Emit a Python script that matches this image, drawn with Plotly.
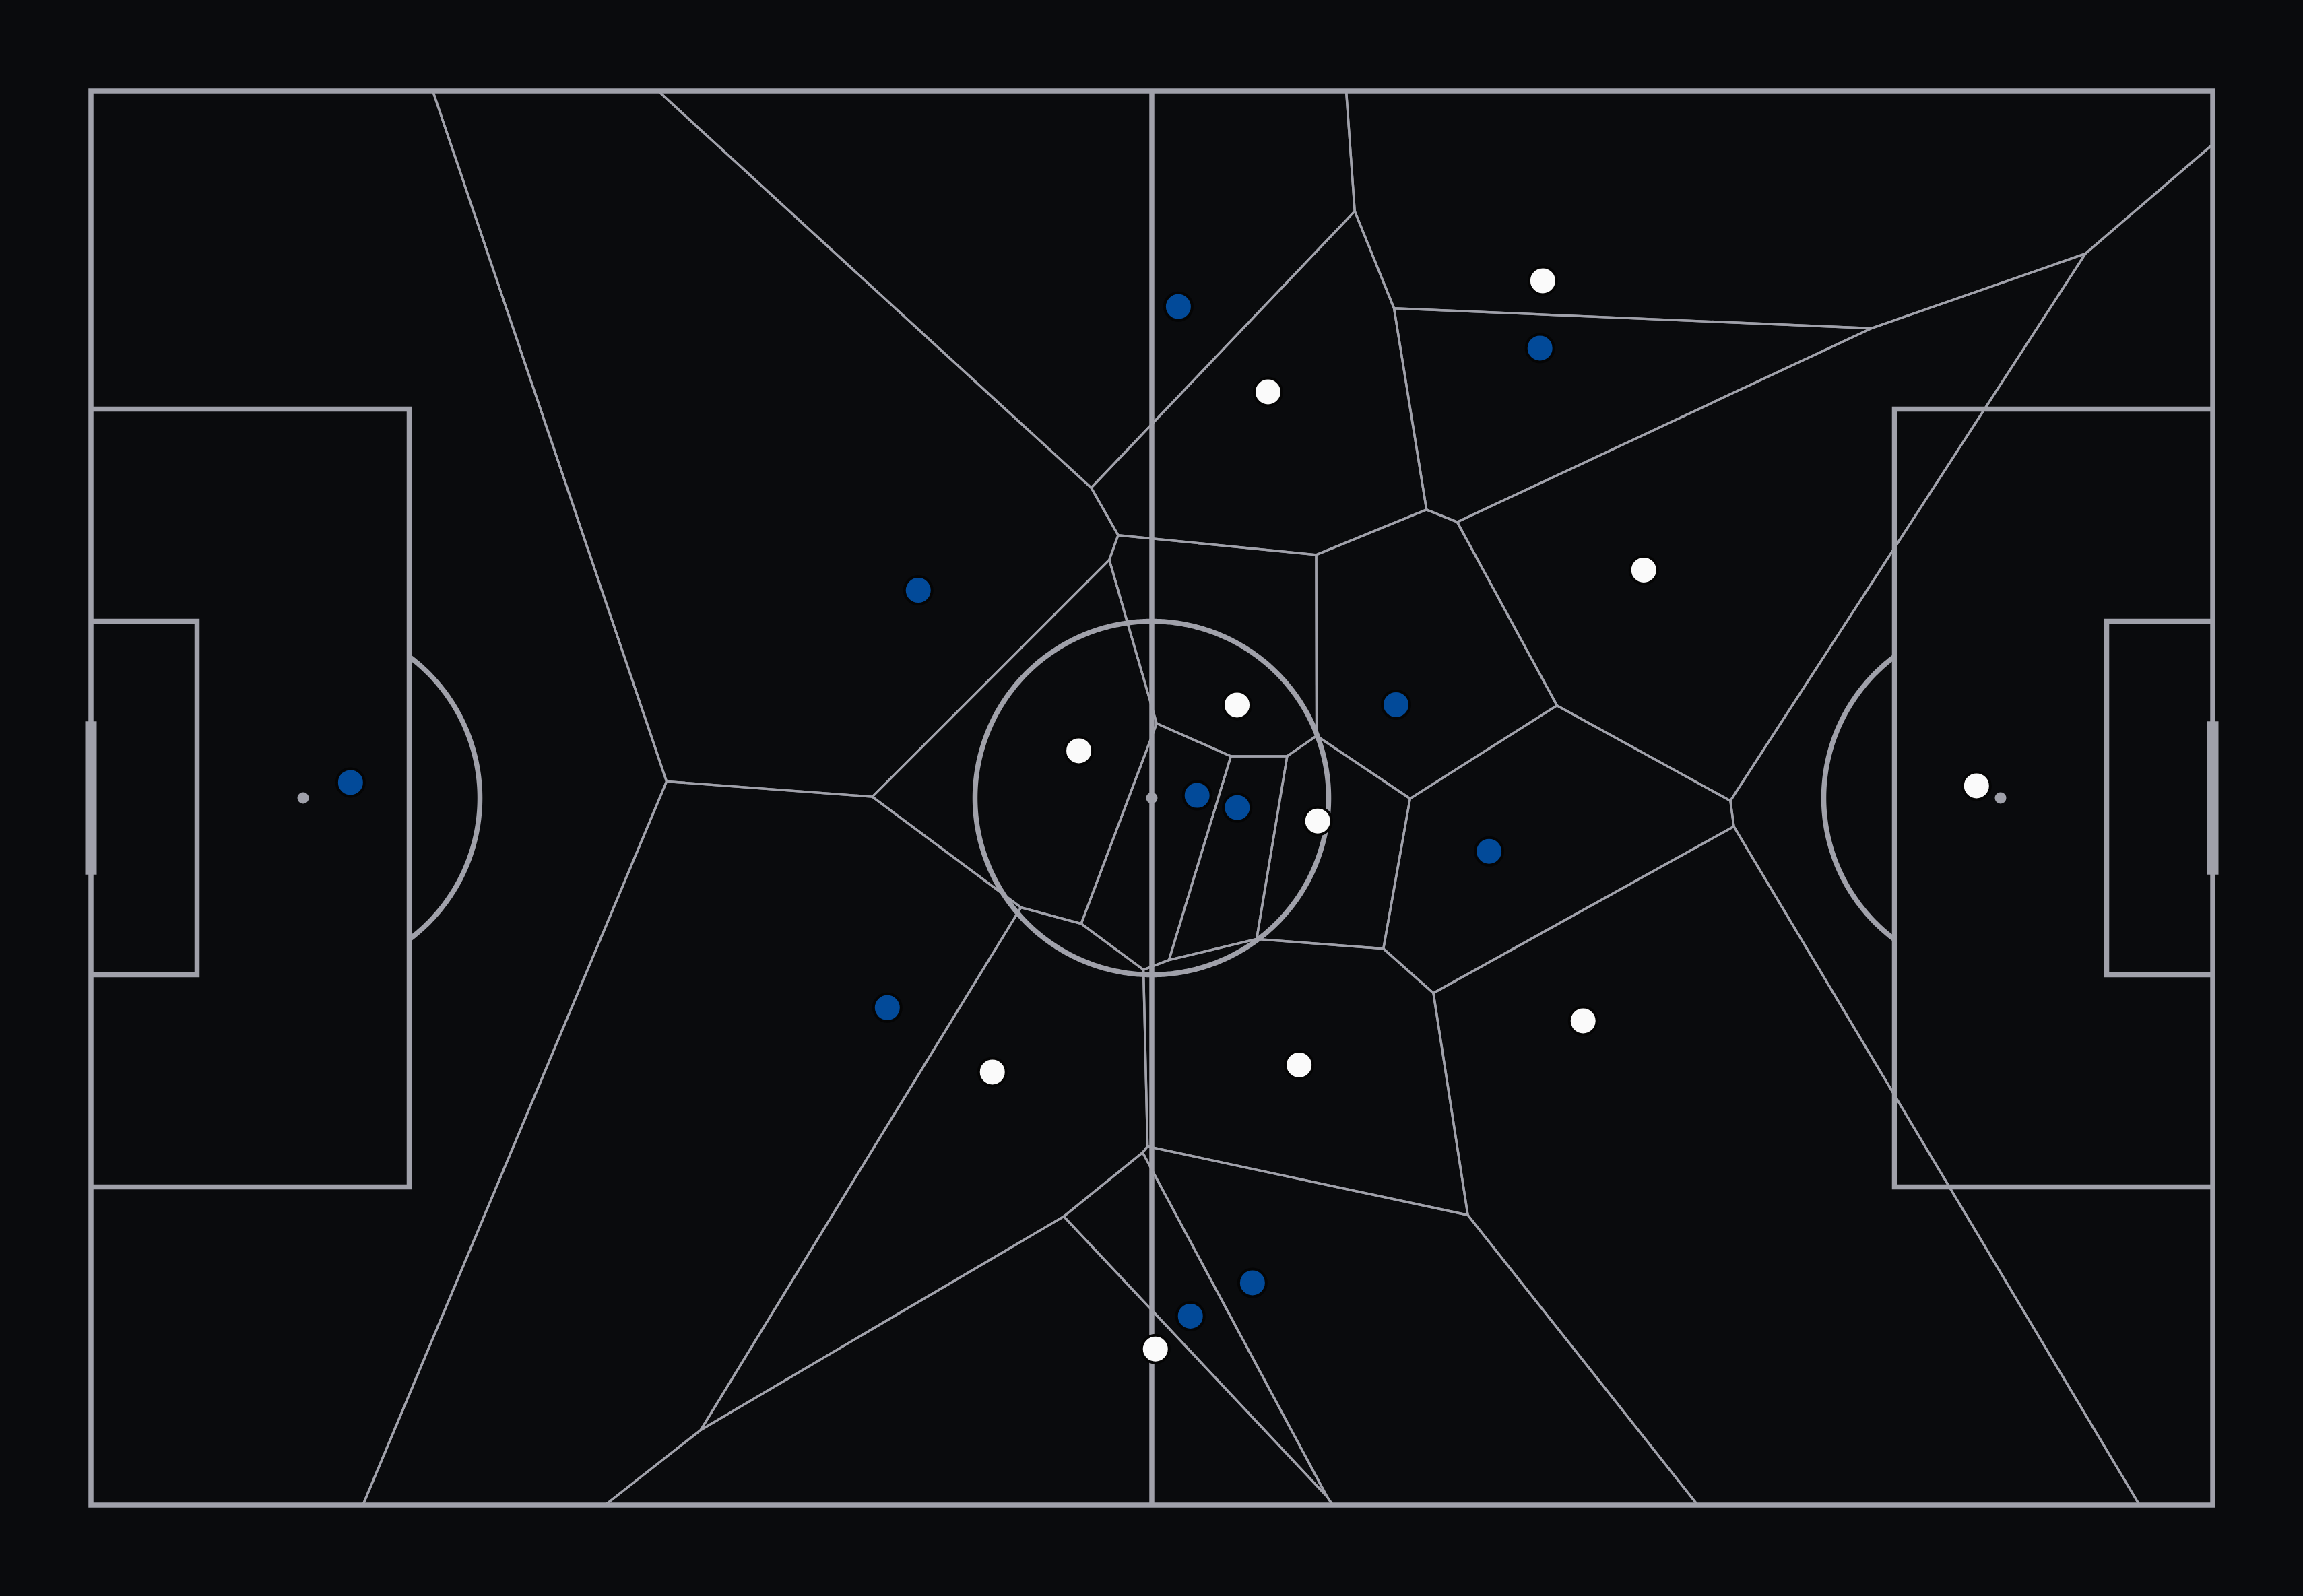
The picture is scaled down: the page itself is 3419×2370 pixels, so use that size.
import numpy as np
import plotly.graph_objects as go

# ---------------- data (StatsBomb pitch coordinates, 120 x 80, y downwards) -------------
white_x = [82.11, 66.57, 87.82, 64.82, 55.87, 69.38, 106.64, 84.39, 68.33, 50.98, 60.20]
white_y = [10.74, 17.03, 27.10, 34.74, 37.33, 41.30, 39.31, 52.61, 55.10, 55.50, 71.17]
blue_x = [61.50, 81.95, 46.79, 73.81, 62.56, 64.83, 79.07, 14.68, 45.04, 65.69, 62.18]
blue_y = [12.20, 14.55, 28.25, 34.72, 39.85, 40.54, 43.02, 39.12, 51.86, 67.43, 69.31]

# ---------------- pitch dimensions (StatsBomb) -----------------------------------------
PITCH_L, PITCH_W = 120.0, 80.0
BOX_L, BOX_TOP, BOX_BOT = 18.0, 18.0, 62.0
SIX_L, SIX_TOP, SIX_BOT = 6.0, 30.0, 50.0
PEN_SPOT = 12.0
CIRCLE_R = 10.0
GOAL_TOP, GOAL_BOT = 36.0, 44.0

BG = "#0a0b0d"
LINE = "#a0a1aa"
WHITE = "#fafafa"
BLUE = "#024a99"

W, H = 3419, 2370
PX_PER_UNIT = 26.25
PAD_PX = 135


def clip_halfplane(poly, a, b, c):
    """Keep the part of polygon with a*x + b*y <= c."""
    out = []
    n = len(poly)
    for i in range(n):
        p, q = poly[i], poly[(i + 1) % n]
        fp = a * p[0] + b * p[1] - c
        fq = a * q[0] + b * q[1] - c
        if fp <= 0:
            out.append(p)
        if (fp < 0 < fq) or (fq < 0 < fp):
            t = fp / (fp - fq)
            out.append((p[0] + t * (q[0] - p[0]), p[1] + t * (q[1] - p[1])))
    return out


pts = list(zip(white_x + blue_x, white_y + blue_y))
vor_x, vor_y = [], []
for i, (xi, yi) in enumerate(pts):
    cell = [(0.0, 0.0), (PITCH_L, 0.0), (PITCH_L, PITCH_W), (0.0, PITCH_W)]
    for j, (xj, yj) in enumerate(pts):
        if i == j:
            continue
        a, b = 2 * (xj - xi), 2 * (yj - yi)
        c = (xj ** 2 + yj ** 2) - (xi ** 2 + yi ** 2)
        cell = clip_halfplane(cell, a, b, c)
        if not cell:
            break
    if cell:
        vor_x += [p[0] for p in cell] + [cell[0][0], None]
        vor_y += [p[1] for p in cell] + [cell[0][1], None]

fig = go.Figure()


def add_line(xs, ys, width=7.5):
    fig.add_trace(go.Scatter(x=xs, y=ys, mode="lines", hoverinfo="skip",
                             line=dict(color=LINE, width=width, simplify=False),
                             showlegend=False))


# pitch outline (closed with an extra segment so the corner joins) & halfway
add_line([0, PITCH_L, PITCH_L, 0, 0, PITCH_L], [0, 0, PITCH_W, PITCH_W, 0, 0])
add_line([PITCH_L / 2, PITCH_L / 2], [0, PITCH_W])
# boxes
for side in (0, 1):
    def fx(v):
        return v if side == 0 else PITCH_L - v
    add_line([fx(0), fx(BOX_L), fx(BOX_L), fx(0)], [BOX_TOP, BOX_TOP, BOX_BOT, BOX_BOT])
    add_line([fx(0), fx(SIX_L), fx(SIX_L), fx(0)], [SIX_TOP, SIX_TOP, SIX_BOT, SIX_BOT])
    # penalty arc
    half = np.degrees(np.arccos((BOX_L - PEN_SPOT) / CIRCLE_R))
    ang = np.radians(np.linspace(-half, half, 200))
    ax = PEN_SPOT + CIRCLE_R * np.cos(ang)
    ay = PITCH_W / 2 + CIRCLE_R * np.sin(ang)
    add_line([fx(v) for v in ax], list(ay))

# centre circle
th = np.linspace(0, 2 * np.pi, 720)
add_line(list(PITCH_L / 2 + CIRCLE_R * np.cos(th)), list(PITCH_W / 2 + CIRCLE_R * np.sin(th)))

# spots
fig.add_trace(go.Scatter(x=[PEN_SPOT, PITCH_L / 2, PITCH_L - PEN_SPOT],
                         y=[PITCH_W / 2] * 3, mode="markers", hoverinfo="skip",
                         marker=dict(color=LINE, size=17, line=dict(width=0)), showlegend=False))

# goals
g_half = 8.5 / PX_PER_UNIT
for gx in (0, PITCH_L):
    fig.add_shape(type="rect", x0=gx - g_half, x1=gx + g_half,
                  y0=GOAL_TOP - 0.33, y1=GOAL_BOT + 0.33,
                  fillcolor=LINE, line=dict(width=0), layer="above")

# voronoi
fig.add_trace(go.Scatter(x=vor_x, y=vor_y, mode="lines", hoverinfo="skip",
                         line=dict(color=LINE, width=3.4, simplify=False), showlegend=False))

# players
fig.add_trace(go.Scatter(x=blue_x, y=blue_y, mode="markers", name="Blue",
                         marker=dict(color=BLUE, size=41, line=dict(color="#050505", width=4)),
                         showlegend=False))
fig.add_trace(go.Scatter(x=white_x, y=white_y, mode="markers", name="White",
                         marker=dict(color=WHITE, size=41, line=dict(color="#050505", width=4)),
                         showlegend=False))

pad = PAD_PX / PX_PER_UNIT
x_max = PITCH_L + (W - PAD_PX - PITCH_L * PX_PER_UNIT) / PX_PER_UNIT
y_max = PITCH_W + (H - PAD_PX - PITCH_W * PX_PER_UNIT) / PX_PER_UNIT

fig.update_layout(
    width=W, height=H,
    margin=dict(l=0, r=0, t=0, b=0, pad=0),
    paper_bgcolor=BG, plot_bgcolor=BG,
    xaxis=dict(range=[-pad, x_max], visible=False, showgrid=False, zeroline=False, domain=[0, 1]),
    yaxis=dict(range=[y_max, -pad], visible=False, showgrid=False, zeroline=False, domain=[0, 1]),
)

fig.write_html("out.html")
